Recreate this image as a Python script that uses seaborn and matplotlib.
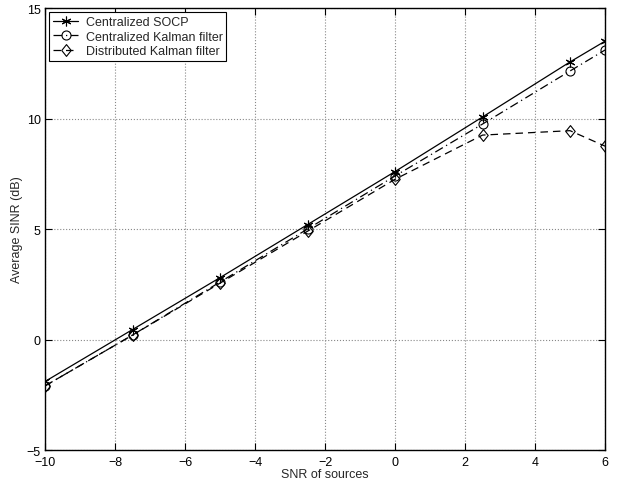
import numpy as np
import seaborn as sns
import matplotlib
matplotlib.use("Agg")
import matplotlib.pyplot as plt
from matplotlib.path import Path

snr = [-10, -7.5, -5, -2.5, 0, 2.5, 5, 6]
socp = [-1.9, 0.45, 2.8, 5.2, 7.6, 10.07, 12.56, 13.5]
central_kf = [-2.1, 0.2, 2.6, 5.0, 7.4, 9.75, 12.15, 13.1]
distrib_kf = [-2.1, 0.2, 2.55, 4.9, 7.25, 9.25, 9.45, 8.75]
labels = ['Centralized SOCP', 'Centralized Kalman filter', 'Distributed Kalman filter']

sns.set_style("ticks")
plt.rcParams['font.family'] = ['Liberation Sans', 'DejaVu Sans']

# matlab-like diamond (a bit wider than mpl 'd')
diamond = Path([(0, 1), (0.8, 0), (0, -1), (-0.8, 0), (0, 1)],
               [Path.MOVETO, Path.LINETO, Path.LINETO, Path.LINETO, Path.CLOSEPOLY])

fig = plt.figure(figsize=(6.26, 4.85), dpi=100)
ax = fig.add_axes([0.0719, 0.0701, 0.8946, 0.9113])

common = dict(ax=ax, color='black', lw=0.9, markerfacecolor='none',
              markeredgecolor='black', markeredgewidth=0.8)
sns.lineplot(x=snr, y=socp, linestyle='-', marker=(6, 2, 0), markersize=7, **common)
sns.lineplot(x=snr, y=central_kf, linestyle=(0, (7, 3, 1, 3)), marker='o', markersize=6.5, **common)
sns.lineplot(x=snr, y=distrib_kf, linestyle=(0, (6, 4)), marker=diamond, markersize=8.5, **common)

ax.set_xlim(-10, 6)
ax.set_ylim(-5, 15)
xt = list(range(-10, 7, 2))
yt = list(range(-5, 16, 5))
ax.set_xticks(xt)
ax.set_yticks(yt)
ax.set_xticklabels([str(v).replace('-', '\u2212') for v in xt])
ax.set_yticklabels([str(v).replace('-', '\u2212') for v in yt])
ax.grid(True, linestyle=':', color='#888888', lw=0.8)
for s in ax.spines.values():
    s.set_visible(True)
    s.set_color('black')
    s.set_linewidth(1.0)
ax.tick_params(direction='in', length=5, width=0.8, labelsize=9, top=True, right=True,
               colors='black', pad=3)
ax.tick_params(axis='x', pad=4)
ax.set_xlabel('SNR of sources', fontsize=9, labelpad=0)
ax.set_ylabel('Average SINR (dB)', fontsize=9, labelpad=3)

leg = ax.legend(ax.lines[:3], labels, loc='upper left', fontsize=9, frameon=True,
                fancybox=False, edgecolor='black', framealpha=1, borderaxespad=0.35,
                handlelength=2.0, borderpad=0.3, labelspacing=0.2, handletextpad=0.6)
leg.get_frame().set_linewidth(0.8)

fig.savefig('out.png', dpi=100)
